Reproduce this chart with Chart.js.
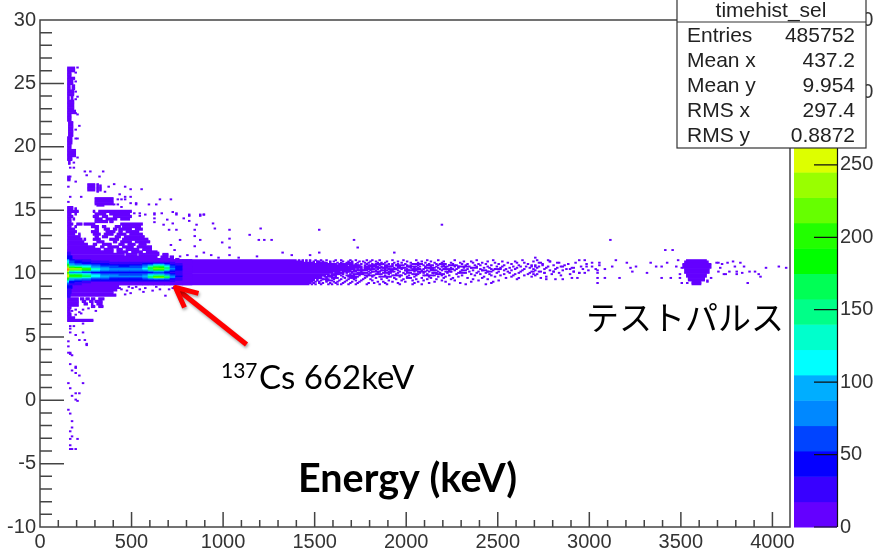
<!DOCTYPE html>
<html>
<head>
<meta charset="utf-8">
<title>timehist_sel</title>
<script src="https://cdn.jsdelivr.net/npm/chart.js@4/dist/chart.umd.js"></script>
<style>
  html, body { margin: 0; padding: 0; background: #fff; }
  canvas { display: block; }
</style>
</head>
<body>
<canvas id="histChart" width="875" height="550"></canvas>
<script>
// axis ranges and tick values
const xMax = 4096;
const zMax = 350;
const xLabels = [0,500,1000,1500,2000,2500,3000,3500,4000];
const xMinorTicks = [100,200,300,400,600,700,800,900,1100,1200,1300,1400,1600,1700,1800,1900,2100,2200,2300,2400,2600,2700,2800,2900,3100,3200,3300,3400,3600,3700,3800,3900];
const xMajorTicks = [500,1000,1500,2000,2500,3000,3500,4000];
const yMajorTicks = [-5,0,5,10,15,20,25];
const yMinorTicks = [-9,-8,-7,-6,-4,-3,-2,-1,1,2,3,4,6,7,8,9,11,12,13,14,16,17,18,19,21,22,23,24,26,27,28,29];
const zMajorTicks = [50,100,150,200,250,300,350];

// colour of each of the 20 contour levels, bottom to top
const palette = ["#6400ff","#3800ff","#0500ff","#0044ff","#0088ff","#00aeff","#00ffff","#00ffcc","#00ff88","#00ff55","#00ff00","#22ff00","#66ff00","#99ff00","#ddff00","#ffdd00","#ffaa00","#ff7700","#ff4400","#ff0000"];

// main band, one row per y bin: [y, last x]
const bandRows = [[11.0,1400],[10.9,1440],[10.8,1500],[10.7,1620],[10.6,1680],[10.5,1760],[10.4,1760],[10.3,1720],[10.2,1700],[10.1,1640],[10.0,1600],[9.9,1580],[9.8,1560],[9.7,1540],[9.6,1540],[9.5,1500],[9.4,1500],[9.3,1490],[9.2,1480],[9.1,1470]];

// counts in the hot part of the band
const heatColumns = [150,160,190,230,280,330,380,430,490,560,590,620,650,680,710,740,780,830];
const heatRows = [
  [11.0,[90,50,30,20,15,10,8,5,5,5,5,5,5,5,5,5,5]],
  [10.9,[110,60,40,25,20,20,15,15,15,15,15,15,15,15,15,10,5]],
  [10.8,[130,60,50,35,30,25,20,20,20,20,25,25,25,20,20,15,5]],
  [10.7,[150,75,65,50,40,35,30,30,30,35,50,60,55,40,25,20,10]],
  [10.6,[175,100,85,70,55,45,40,35,40,55,85,115,110,75,45,30,15]],
  [10.5,[210,150,130,105,80,60,55,50,55,80,130,170,165,120,60,35,15]],
  [10.4,[240,200,190,150,100,80,65,60,65,95,160,195,190,145,65,35,15]],
  [10.3,[290,235,240,195,125,95,80,70,75,105,170,215,215,155,70,35,15]],
  [10.2,[310,220,225,180,120,95,80,75,80,100,145,185,185,125,65,35,15]],
  [10.1,[260,130,120,100,80,65,55,55,55,60,80,95,90,65,40,25,10]],
  [10.0,[200,85,75,60,50,40,35,35,35,40,50,55,55,45,30,20,10]],
  [9.9,[220,135,135,110,80,65,55,55,55,60,75,80,85,65,40,25,10]],
  [9.8,[250,180,190,150,105,80,70,65,65,75,115,130,130,90,55,30,15]],
  [9.7,[275,195,205,160,110,90,75,75,75,95,155,200,200,155,75,35,15]],
  [9.6,[225,150,150,125,90,75,65,65,65,80,145,225,225,165,70,30,15]],
  [9.5,[180,100,95,80,65,55,50,50,50,55,75,100,100,70,40,25,10]],
  [9.4,[140,75,65,55,45,35,35,35,35,35,40,45,45,35,30,20,10]],
  [9.3,[110,50,40,30,25,20,20,20,20,20,20,20,20,20,20,15,10]],
  [9.2,[90,40,30,20,15,15,10,10,10,10,10,10,10,10,10,10,5]],
  [9.1,[60,30,20,15,10,5,5,5,5,5,5,5,5,5,5,5,5]]
];

// blue edge just above and below the band: [yLow, yHigh, x0, x1, count]
const edgeBlocks = [[11.4,11.7,150,165,25],[11.1,11.4,150,175,45],[8.8,9.1,150,175,50],[8.4,8.8,150,170,30],[8.1,8.4,150,165,20]];

// filled patches of low counts: [yLow, yHigh, x0, x1]
const tailBlocks = [
  [25.9,26.3,150,190],[25.5,25.9,150,170],[25.3,25.5,150,190],[24.9,25.3,150,180],[24.5,24.9,150,165],[24.5,24.9,175,190],
  [24.0,24.5,150,185],[23.7,24.0,150,160],[23.7,24.0,170,180],[22.9,23.7,150,185],[22.6,22.9,150,195],[22.0,22.6,150,170],
  [20.8,22.0,155,180],[20.2,20.8,150,175],[19.8,20.2,150,170],[19.2,19.8,150,195],[18.9,19.2,150,175],[18.6,18.9,155,165],
  [17.3,17.6,150,165],[16.5,17.1,260,300],[16.4,17.1,310,320],[16.5,17.0,325,335],[15.4,16.0,300,400],[15.3,15.4,310,350],
  [15.0,15.3,150,180],[15.0,15.2,190,200]
];
const upperBlocks = [
  [14.8,15,150,210],[14.8,15,290,300],[14.8,15,320,500],
  [14.6,14.8,150,170],[14.6,14.8,190,200],[14.6,14.8,300,360],[14.6,14.8,380,490],
  [14.4,14.6,150,180],[14.4,14.6,290,320],[14.4,14.6,340,370],[14.4,14.6,400,500],
  [14.2,14.4,150,170],[14.2,14.4,180,190],[14.2,14.4,300,340],[14.2,14.4,360,420],[14.2,14.4,440,490],
  [14.0,14.2,150,170],[14.0,14.2,300,370],[14.0,14.2,380,400],
  [13.8,14.0,150,180],[13.8,14.0,200,230],[13.8,14.0,240,300],[13.8,14.0,440,560],
  [13.6,13.8,150,170],[13.6,13.8,190,200],[13.6,13.8,280,320],[13.6,13.8,340,360],[13.6,13.8,410,440],[13.6,13.8,450,550],
  [13.4,13.6,150,190],[13.4,13.6,300,320],[13.4,13.6,350,380],[13.4,13.6,400,420],[13.4,13.6,430,500],[13.4,13.6,520,560],
  [13.2,13.4,150,200],[13.2,13.4,280,320],[13.2,13.4,360,410],[13.2,13.4,430,450],[13.2,13.4,470,540],
  [13.0,13.2,150,190],[13.0,13.2,210,220],[13.0,13.2,290,330],[13.0,13.2,350,400],[13.0,13.2,420,470],[13.0,13.2,490,560],
  [12.8,13.0,150,220],[12.8,13.0,300,320],[12.8,13.0,340,370],[12.8,13.0,410,440],[12.8,13.0,460,570],
  [12.6,12.8,150,230],[12.6,12.8,240,250],[12.6,12.8,290,330],[12.6,12.8,380,430],[12.6,12.8,450,590],
  [12.4,12.6,150,240],[12.4,12.6,310,350],[12.4,12.6,400,420],[12.4,12.6,440,500],[12.4,12.6,520,600],
  [12.2,12.4,150,260],[12.2,12.4,290,310],[12.2,12.4,340,390],[12.2,12.4,430,460],[12.2,12.4,480,520],[12.2,12.4,540,580],
  [12.0,12.2,150,300],[12.0,12.2,330,350],[12.0,12.2,370,430],[12.0,12.2,450,510],[12.0,12.2,530,610],
  [11.8,12.0,150,330],[11.8,12.0,350,400],[11.8,12.0,420,450],[11.8,12.0,470,540],[11.8,12.0,560,610],
  [11.6,11.8,150,400],[11.6,11.8,420,480],[11.6,11.8,500,560],[11.6,11.8,580,640],
  [11.4,11.6,150,460],[11.4,11.6,470,530],[11.4,11.6,540,650],[11.4,11.6,670,700],
  [11.2,11.4,150,640],[11.2,11.4,660,700],[11.2,11.4,710,730],
  [11.1,11.2,150,730],[11.1,11.2,740,760]
];
const lowerBlocks = [
  [8.8,9.1,150,430],[8.6,8.8,150,420],[8.4,8.6,150,400],[8.2,8.4,150,415],
  [7.4,8.1,150,210],[7.9,8.1,220,240],[7.9,8.1,250,270],[7.9,8.1,280,300],[7.9,8.1,320,350],
  [7.7,7.9,230,250],[7.7,7.9,270,290],[7.7,7.9,300,340],[7.5,7.7,240,260],[7.5,7.7,280,290],[7.5,7.7,310,340],
  [7.3,7.5,280,300],[7.3,7.5,320,345],[7.2,7.4,150,170],[6.9,7.2,150,165],[6.6,6.9,150,170],[6.4,6.6,150,190],[6.2,6.4,150,290]
];
const pulseBlocks = [[11.0,11.1,3530,3640],[10.8,11.0,3520,3650],[10.4,10.8,3510,3665],[10.0,10.4,3520,3655],[9.7,10.0,3530,3640],[9.4,9.7,3540,3630],[9.1,9.4,3560,3610]];

// right hand tail of the band, one list of x bins per y bin
const tailRows = [
  [11.0,[1410,1430,1450,1470,1500,1530,1560,1610,1640,1690,1720,1780,1810,1850,1920,1980,2050,2110,2170,2260,2380,2470,2630]],
  [10.9,[1450,1470,1490,1510,1540,1580,1600,1650,1680,1700,1740,1760,1800,1830,1890,1950,2000,2080,2130,2200,2310,2350,2440,2520,2590,2690,2780]],
  [10.8,[1510,1530,1550,1580,1620,1640,1670,1700,1730,1770,1790,1840,1860,1880,1930,1970,2020,2060,2100,2150,2190,2240,2290,2360,2410,2480,2550,2600,2640,2720,2830,2920]],
  [10.7,[1630,1650,1680,1700,1720,1750,1780,1810,1830,1870,1900,1920,1950,1990,2030,2040,2080,2120,2160,2180,2210,2250,2300,2330,2390,2430,2500,2570,2660,2740,2880,2980]],
  [10.6,[1690,1720,1730,1770,1790,1820,1850,1880,1890,1920,1940,1980,2000,2020,2060,2090,2110,2140,2170,2200,2230,2270,2320,2370,2400,2460,2530,2610,2680,2700,2800,2860,3050]],
  [10.5,[1770,1800,1830,1840,1860,1900,1910,1950,1960,2000,2010,2050,2070,2100,2130,2160,2190,2220,2260,2280,2340,2380,2440,2490,2520,2580,2620,2650,2720,2770,2840,2950,3010,3120]],
  [10.4,[1770,1790,1810,1850,1870,1890,1930,1960,1980,2020,2040,2060,2100,2120,2150,2170,2210,2240,2280,2310,2350,2420,2450,2510,2560,2600,2670,2710,2760,2820,2900]],
  [10.3,[1730,1750,1780,1820,1840,1880,1900,1940,1970,2000,2030,2070,2090,2130,2140,2180,2200,2250,2270,2330,2400,2460,2480,2540,2590,2640,2690,2750,2810,2870,2960,3030]],
  [10.2,[1710,1740,1760,1800,1830,1860,1910,1920,1950,1990,2010,2050,2080,2110,2150,2190,2230,2260,2300,2360,2410,2470,2530,2570,2630,2700,2780,2850,2990]],
  [10.1,[1650,1680,1720,1750,1790,1810,1850,1880,1930,1960,2000,2040,2060,2100,2120,2170,2210,2240,2290,2340,2390,2440,2500,2550,2620,2680,2730,2800,2910]],
  [10.0,[1610,1640,1670,1700,1730,1780,1800,1840,1870,1910,1950,1980,2020,2070,2090,2140,2180,2220,2280,2320,2380,2430,2490,2560,2610,2670,2750,2830,2940,3040]],
  [9.9,[1590,1620,1650,1690,1710,1760,1790,1830,1860,1900,1940,1990,2030,2060,2110,2160,2200,2270,2350,2400,2450,2530,2590,2660,2710,2790,2890]],
  [9.8,[1570,1600,1640,1670,1710,1740,1770,1820,1880,1920,1970,2010,2050,2090,2150,2190,2230,2300,2370,2460,2510,2580,2640,2700,2840]],
  [9.7,[1550,1590,1610,1650,1680,1730,1780,1810,1850,1910,1960,2000,2040,2120,2170,2210,2280,2420,2480,2570,2680,2760]],
  [9.6,[1560,1590,1620,1660,1690,1720,1770,1830,1890,1930,2020,2080,2130,2200,2250,2330,2410,2540,2610,2730]],
  [9.5,[1510,1540,1570,1600,1640,1680,1710,1760,1800,1860,1940,1980,2050,2110,2160,2240,2360,2440,2600]],
  [9.4,[1510,1530,1560,1590,1630,1670,1720,1750,1810,1900,1970,2030,2090,2190,2260,2390,2500]],
  [9.3,[1500,1520,1560,1600,1620,1660,1700,1740,1840,1870,1920,1990,2060,2150,2210,2350,2470]],
  [9.2,[1490,1520,1540,1580,1610,1650,1690,1730,1790,1820,1880,1950,2040,2120,2290,2460]],
  [9.1,[1480,1500,1530,1570,1590,1620,1640,1680,1720,1780,1850,1890,1960,2030,2080,2230,2320,2430]]
];

// clumps inside that tail: [y, x0, x1]
const tailRuns = [
  [10.9,1510,1530],[10.8,1520,1570],[10.8,1680,1700],[10.7,1640,1700],[10.7,1830,1870],[10.7,2040,2080],[10.7,2180,2210],
  [10.6,1690,1750],[10.6,1800,1840],[10.6,1940,1980],[10.6,2110,2140],[10.6,2230,2270],
  [10.5,1780,1830],[10.5,1880,1930],[10.5,2010,2050],[10.5,2190,2220],[10.5,2280,2340],
  [10.4,1770,1800],[10.4,1830,1890],[10.4,1950,2000],[10.4,2100,2150],[10.4,2350,2390],
  [10.3,1770,1820],[10.3,1900,1950],[10.3,2040,2080],[10.3,2200,2250],[10.3,2480,2520],
  [10.2,1720,1790],[10.2,1860,1900],[10.2,1990,2050],[10.2,2130,2170],[10.2,2300,2330],[10.2,2410,2440],
  [10.1,1650,1720],[10.1,1810,1860],[10.1,1900,1930],[10.1,2060,2100],[10.1,2220,2250],[10.1,2440,2470],
  [10.0,1610,1660],[10.0,1740,1780],[10.0,1880,1910],[10.0,2000,2020],[10.0,2140,2170],[10.0,2290,2320],
  [9.9,1600,1640],[9.9,1720,1760],[9.9,1840,1860],[9.9,2040,2060],[9.9,2170,2200],
  [9.8,1570,1620],[9.8,1680,1710],[9.8,1780,1820],[9.8,1930,1970],[9.8,2100,2150],
  [9.7,1560,1590],[9.7,1690,1730],[9.7,1860,1910],[9.6,1600,1620],[9.6,1700,1720],[9.6,2000,2020],[9.5,1540,1570],[9.4,1560,1590]
];

// single filled bins: [x, y]
const upperHits = [
  [200,26.2],[190,25.8],[190,25.1],[190,24.3],[200,23.9],[190,23.7],[190,22.6],[200,22.5],[210,21.6],[190,21.3],[200,20.6],[190,20.6],[200,19.1],[180,18.3],[160,18.3],[180,18.7],
  [150,17.6],[160,17.6],[240,18.0],[250,17.7],[270,18.0],[340,18.0],[320,17.6],[190,17.2],[150,16.8],[160,16.0],[150,15.6],[220,16.0],[400,17.0],[370,16.8],[460,16.8],[490,16.6],[550,16.6],[350,16.4],[430,16.2],[420,15.8],[440,15.8],[460,16.0],[490,16.0],[460,15.8],[650,15.8],[710,15.8],[520,15.5],[490,15.5],[590,15.4],[630,15.4],[400,15.4],[420,15.4],[440,15.2],[520,15.4],
  [540,14.7],[570,14.6],[620,14.6],[660,14.7],[720,14.8],[740,14.6],[810,14.6],[870,14.6],[890,14.6],[780,14.3],[690,14.2],[620,14.3],[510,14.7],[540,14.5],
  [840,13.4],[840,12.9],[810,14.5],[870,14.5],[890,14.6],[940,13.9],[950,13.5],[1030,13.4],[1140,13.0],[1200,13.5],[1190,12.6],[1220,12.6],[1260,12.6],[990,12.4],[1030,12.7],[1030,12.0],[1030,11.4],[890,11.6],[930,11.4],[840,12.1],[870,12.6],[710,12.2],[730,11.8],[760,12.6],[620,14.7],[620,14.0],[670,13.8],[720,13.9],[740,14.7],[700,13.4],[740,13.4],[810,14.1],[850,13.8],
  [1320,11.6],[1370,11.4],[1470,11.4],[1520,11.6],[1520,13.4],[1710,12.6],[1730,12.0],[1930,11.6],[2190,13.8],[2700,11.2],[640,11.6],[760,11.3],[800,11.4],[850,11.3],[970,11.2],[1080,11.2],[1180,11.3]
];
const lowerHits = [
  [430,8.8],[440,8.7],[470,8.6],[480,8.9],[500,8.8],[520,8.9],[540,8.7],[560,8.5],[570,8.8],[610,8.6],[630,8.9],[650,8.7],[680,8.2],[700,8.7],[720,8.8],[730,8.9],[740,8.8],[460,8.3],[490,8.4],
  [230,7.1],[260,7.2],[300,7.0],[170,7.0],[190,7.1],[210,6.9],[190,6.7],[220,6.8],
  [160,5.8],[180,5.8],[230,6.0],[190,5.1],[230,5.3],[160,5.6],[210,4.7],[250,4.3],[150,4.6],[150,4.2],[150,3.7],[160,3.7],[170,3.5],[160,2.8],[190,2.6],[170,2.3],[190,2.1],[210,1.9],[150,1.3],[230,1.3],
  [160,5.3],[240,4.7],[250,4.4],[160,3.6],[190,2.5],[160,0.9],[190,0.5],[210,0.5],[170,0.3],[190,0.0],[200,-0.1],[150,-0.8],[160,-1.1],[170,-1.7],[170,-2.2],[160,-2.5],[170,-2.9],[160,-3.1],[200,-3.1],[160,-3.6],[160,-3.9],[170,-3.9],[190,-3.9]
];
const farHits = [
  [2710,11.0],[2730,10.8],[2680,10.5],[2700,10.5],[2740,10.6],[2770,11.0],[2780,10.9],[2820,10.8],[2690,10.1],[2720,10.1],[2750,10.0],[2800,10.1],[2850,10.5],[2910,10.4],[2940,11.0],[2970,11.0],[3010,10.8],[3050,10.8],[2980,10.5],[3040,10.2],[3080,10.3],[2690,9.9],[2760,9.5],[2810,9.5],[2850,9.5],[2900,9.6],[2930,9.6],[2890,10.3],[2910,10.1],[2940,10.0],[2970,10.0],[3040,9.6],[3080,9.6],[3040,9.2],[3160,9.6],[3140,11.0],[3200,10.8],[3220,10.4],[3250,10.5],[3230,10.1],[3310,10.0],[3330,10.8],[3360,10.5],[3390,10.5],[3420,10.8],[3390,9.6],[3440,9.6],[3110,12.6],[3410,11.8],[3450,11.8],[3470,10.5],[3480,11.0],
  [3690,10.8],[3700,10.8],[3720,10.7],[3750,10.8],[3780,10.9],[3790,10.5],[3820,10.8],[3840,10.5],[3700,10.1],[3730,9.9],[3760,10.1],[3800,10.1],[3830,10.0],[3870,10.1],[3900,10.1],[3930,9.7],[3660,9.6],[3640,9.4],[3800,9.9],[3860,9.2],[3960,10.4],[4030,10.5],[4070,10.4],[3710,10.4],[3740,9.9],[3920,9.9],[3640,9.3],[3500,9.2],[3530,9.2],[3490,9.9],[3500,10.4],[3490,9.6]
];

// turn the lists into one floating bar per row of filled bins
const cells = [];
function addBlocks(list, count) {
  list.forEach(function (b) {
    for (let t = Math.round(b[0] * 10); t < Math.round(b[1] * 10); t++) {
      cells.push({ x: [b[2], b[3]], y: t / 10 + 0.05, z: b[4] || count });
    }
  });
}
function addHits(list) {
  list.forEach(function (h) {
    cells.push({ x: [h[0], h[0] + 10], y: h[1] + 0.05, z: 5 });
  });
}
bandRows.forEach(function (r) { cells.push({ x: [150, r[1]], y: r[0] + 0.05, z: 5 }); });
addBlocks(tailBlocks, 5);
addBlocks(upperBlocks, 5);
addBlocks(lowerBlocks, 5);
addBlocks(pulseBlocks, 5);
tailRows.forEach(function (r) {
  r[1].forEach(function (x) { cells.push({ x: [x, x + 10], y: r[0] + 0.05, z: 5 }); });
});
tailRuns.forEach(function (r) { cells.push({ x: [r[1], r[2]], y: r[0] + 0.05, z: 5 }); });
addHits(upperHits);
addHits(lowerHits);
addHits(farHits);
addBlocks(edgeBlocks, 5);
heatRows.forEach(function (r) {
  r[1].forEach(function (z, i) {
    cells.push({ x: [heatColumns[i], heatColumns[i + 1]], y: r[0] + 0.05, z: z });
  });
});

function levelColor(z) {
  return palette[Math.min(Math.floor(z / zMax * palette.length), palette.length - 1)];
}

const frameColor = "#444444";

// ROOT style axes: inward ticks, frame, palette, stats box and slide notes
const rootDecor = {
  id: "rootDecor",
  afterDatasetsDraw(chart) {
    const { ctx, chartArea: a, scales } = chart;
    const x = scales.x, y = scales.y, z = scales.zAxis;
    ctx.save();

    // palette
    palette.forEach(function (c, i) {
      const top = z.getPixelForValue((i + 1) / palette.length * zMax);
      const bottom = z.getPixelForValue(i / palette.length * zMax);
      ctx.fillStyle = c;
      ctx.fillRect(794, top, 43, bottom - top + 0.5);
    });
    ctx.strokeStyle = "#111";
    ctx.lineWidth = 1.2;
    ctx.beginPath();
    ctx.moveTo(837.5, a.top);
    ctx.lineTo(837.5, a.bottom);
    ctx.moveTo(814, a.bottom);
    ctx.lineTo(837, a.bottom);
    zMajorTicks.forEach(function (v) {
      const p = z.getPixelForValue(v);
      ctx.moveTo(814, p);
      ctx.lineTo(837, p);
    });
    ctx.stroke();

    // frame and ticks
    ctx.strokeStyle = frameColor;
    ctx.lineWidth = 1.5;
    ctx.strokeRect(a.left, a.top, a.right - a.left, a.bottom - a.top);
    ctx.beginPath();
    yMajorTicks.forEach(function (v) {
      const p = y.getPixelForValue(v);
      ctx.moveTo(a.left, p);
      ctx.lineTo(a.left + 24, p);
    });
    yMinorTicks.forEach(function (v) {
      const p = y.getPixelForValue(v);
      ctx.moveTo(a.left, p);
      ctx.lineTo(a.left + 12, p);
    });
    xMajorTicks.forEach(function (v) {
      const p = x.getPixelForValue(v);
      ctx.moveTo(p, a.bottom);
      ctx.lineTo(p, a.bottom - 15);
    });
    xMinorTicks.forEach(function (v) {
      const p = x.getPixelForValue(v);
      ctx.moveTo(p, a.bottom);
      ctx.lineTo(p, a.bottom - 7);
    });
    ctx.stroke();
    ctx.restore();
  },
  afterDraw(chart) {
    const { ctx, scales } = chart;
    const x = scales.x, y = scales.y;
    ctx.save();

    // stats box
    ctx.fillStyle = "#fff";
    ctx.fillRect(677, 0, 189, 148);
    ctx.strokeStyle = "#333";
    ctx.lineWidth = 1.2;
    ctx.strokeRect(677, -2, 189, 150);
    ctx.beginPath();
    ctx.moveTo(677, 22);
    ctx.lineTo(866, 22);
    ctx.stroke();
    ctx.fillStyle = "#222";
    ctx.font = "21px 'Liberation Sans'";
    ctx.textBaseline = "alphabetic";
    ctx.textAlign = "center";
    ctx.fillText("timehist_sel", 771, 17);
    const statNames = ["Entries", "Mean x", "Mean y", "RMS x", "RMS y"];
    const statValues = ["485752", "437.2", "9.954", "297.4", "0.8872"];
    statNames.forEach(function (n, i) {
      ctx.textAlign = "left";
      ctx.fillText(n, 687, 42 + i * 25);
      ctx.textAlign = "right";
      ctx.fillText(statValues[i], 855, 42 + i * 25);
    });

    // arrow pointing at the 662 keV peak
    const tipX = x.getPixelForValue(740), tipY = y.getPixelForValue(8.9);
    ctx.shadowColor = "rgba(0,0,0,0.35)";
    ctx.shadowBlur = 3;
    ctx.shadowOffsetX = 1;
    ctx.shadowOffsetY = 2;
    ctx.strokeStyle = "#ff0000";
    ctx.lineWidth = 5;
    ctx.lineJoin = "round";
    ctx.beginPath();
    ctx.moveTo(tipX + 71, tipY + 57);
    ctx.lineTo(tipX + 2, tipY + 2);
    ctx.stroke();
    ctx.beginPath();
    ctx.moveTo(tipX + 23, tipY + 6);
    ctx.lineTo(tipX, tipY);
    ctx.lineTo(tipX + 9, tipY + 20);
    ctx.stroke();
    ctx.shadowColor = "transparent";
    ctx.shadowBlur = 0;
    ctx.shadowOffsetX = 0;
    ctx.shadowOffsetY = 0;

    // slide notes
    ctx.fillStyle = "#000";
    ctx.textAlign = "left";
    ctx.font = "21px Lato";
    ctx.fillText("137", 221, 378);
    ctx.font = "33px Lato";
    ctx.fillText("Cs 662keV", 259, 389);
    ctx.font = "bold 39.5px Lato";
    ctx.fillText("Energy (keV)", 298, 492);
    ctx.font = "33px 'Noto Sans CJK JP'";
    ctx.fillText("テストパルス", 586, 330);
    ctx.restore();
  }
};

new Chart(document.getElementById("histChart").getContext("2d"), {
  type: "bar",
  data: {
    datasets: [{
      data: cells,
      backgroundColor: function (c) { return c.raw ? levelColor(c.raw.z) : palette[0]; },
      borderWidth: 0,
      barThickness: 1.3,
      grouped: false
    }]
  },
  options: {
    indexAxis: "y",
    responsive: false,
    animation: false,
    layout: { padding: { top: 20, left: 0, right: 0, bottom: 0 } },
    plugins: { legend: { display: false }, tooltip: { enabled: false } },
    scales: {
      x: {
        type: "linear",
        min: 0,
        max: xMax,
        offset: false,
        grid: { display: false, drawTicks: false },
        border: { display: false },
        afterBuildTicks: function (s) { s.ticks = xLabels.map(function (v) { return { value: v }; }); },
        ticks: { autoSkip: false, maxRotation: 0, padding: 3, color: "#333", font: { family: "Liberation Sans", size: 20 }, callback: function (v) { return String(v); } },
        afterFit: function (s) { s.height = 23; }
      },
      y: {
        type: "linear",
        min: -10,
        max: 30,
        offset: false,
        grid: { display: false, drawTicks: false },
        border: { display: false },
        ticks: { stepSize: 5, autoSkip: false, padding: 4, color: "#333", font: { family: "Liberation Sans", size: 20 } },
        afterFit: function (s) { s.width = 40; }
      },
      zAxis: {
        type: "linear",
        axis: "y",
        position: "right",
        min: 0,
        max: zMax,
        offset: false,
        grid: { display: true, drawOnChartArea: false, drawTicks: true, tickLength: 47, tickColor: "transparent" },
        border: { display: false },
        ticks: { stepSize: 50, autoSkip: false, padding: 3, color: "#333", font: { family: "Liberation Sans", size: 20 } },
        afterFit: function (s) { s.width = 85; }
      }
    }
  },
  plugins: [rootDecor]
});
</script>
</body>
</html>
